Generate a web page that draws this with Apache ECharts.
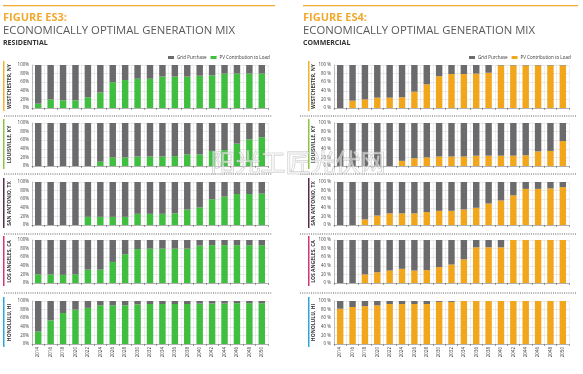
<!DOCTYPE html>
<html><head><meta charset="utf-8">
<script src="https://cdn.jsdelivr.net/npm/echarts@6/dist/echarts.min.js"></script>
<style>html,body{margin:0;padding:0;background:#fff}#c{width:583px;height:374px}</style>
</head><body><div id="c"></div>
<script>
const years = ['2014','2016','2018','2020','2022','2024','2026','2028','2030','2032','2034','2036','2038','2040','2042','2044','2046','2048','2050'];
const cities = ['WESTCHESTER, NY','LOUISVILLE, KY','SAN ANTONIO, TX','LOS ANGELES, CA','HONOLULU, HI'];
const yTicksRes = ['0%','20%','40%','60%','80%','100%'];
const yTicksCom = ['0 %','20 %','40 %','60 %','80 %','100 %'];
// Residential PV contribution to load (%)
const resWestchester = [10,20,18,18,25,36,60,65,68,68,73,73,73,75,76,80,80,80,80];
const resLouisville  = [0,0,0,0,0,10,20,20,22,22,22,23,27,27,35,37,52,62,67];
const resSanAntonio  = [0,0,0,0,19,19,19,19,26,26,26,27,36,41,60,66,72,72,73];
const resLosAngeles  = [20,20,19,20,31,31,49,67,79,80,80,80,80,87,88,88,88,88,88];
const resHonolulu    = [29,55,72,80,84,90,90,90,92,93,93,93,93,94,94,94,95,95,95];
// Commercial PV contribution to load (%)
const comWestchester = [0,17,20,24,24,25,38,55,74,79,79,80,82,99,99,99,99,99,99];
const comLouisville  = [0,0,0,0,0,12,18,20,22,22,22,24,24,24,24,25,34,35,58];
const comSanAntonio  = [0,0,13,22,27,27,27,30,33,33,36,40,50,57,69,84,84,85,88];
const comLosAngeles  = [0,0,20,25,29,33,29,30,37,43,55,83,83,83,100,100,100,100,100];
const comHonolulu    = [82,86,88,90,93,93,93,93,98,98,100,100,100,100,100,100,100,100,100];

const resData = [resWestchester,resLouisville,resSanAntonio,resLosAngeles,resHonolulu];
const comData = [comWestchester,comLouisville,comSanAntonio,comLosAngeles,comHonolulu];

const GRAY='#6b6b6d', GREEN='#3fbe3f', ORANGE='#f2a61c', TITLE='#f2a92e';
const cityColors=['#f0b42a','#8cc63f','#5b2a4f','#d23579','#2aa8d6'];
const rowTops=[65,123,182,240,301], rowH=43;
const panels=[{left:32,width:236,data:resData,color:GREEN,ticks:yTicksRes,lx:3,tx:10},
              {left:334,width:235,data:comData,color:ORANGE,ticks:yTicksCom,lx:308,tx:314}];

const grid=[],xAxis=[],yAxis=[],series=[],graphic=[];
panels.forEach((p,pi)=>{
  p.data.forEach((vals,r)=>{
    const gi=grid.length;
    grid.push({left:p.left,width:p.width,top:rowTops[r],height:rowH});
    xAxis.push({type:'category',gridIndex:gi,data:years,
      axisLine:{lineStyle:{color:'#888',width:0.6}},
      axisTick:{show:true,length:2,lineStyle:{color:'#666',width:0.6}},
      splitLine:{show:true,lineStyle:{color:'#e3e3e3',width:0.6}},
      axisLabel:{show:r===4,rotate:90,fontSize:4.5,color:'#333',margin:3,fontFamily:'Open Sans'}});
    yAxis.push({type:'value',gridIndex:gi,min:0,max:100,interval:20,
      axisLine:{show:true,lineStyle:{color:'#999',width:0.6}},
      splitLine:{lineStyle:{color:'#dcdcdc',width:0.6}},
      axisLabel:{fontSize:4.5,color:'#444',margin:3,fontFamily:'Open Sans',
        formatter:v=>p.ticks[v/20]}});
    series.push({type:'bar',name:'PV Contribution to Load',xAxisIndex:gi,yAxisIndex:gi,stack:'s'+gi,
      barWidth:'52%',data:vals,itemStyle:{color:p.color},silent:true});
    series.push({type:'bar',name:'Grid Purchase',xAxisIndex:gi,yAxisIndex:gi,stack:'s'+gi,
      barWidth:'52%',data:vals.map(v=>100-v),itemStyle:{color:GRAY},silent:true});
    graphic.push({type:'rect',left:p.lx,top:rowTops[r]-4,shape:{width:1.5,height:rowH+7},style:{fill:cityColors[r]},silent:true});
    graphic.push({type:'text',x:p.tx,y:rowTops[r]+rowH/2,rotation:Math.PI/2,
      style:{text:cities[r],fill:'#333',font:'bold 5px "Open Sans"',textAlign:'center',textVerticalAlign:'middle'},silent:true});
  });
});
[116,174,234,293].forEach(y=>{
  graphic.push({type:'line',shape:{x1:4,y1:y,x2:272,y2:y},style:{stroke:'#333',lineWidth:0.8,lineDash:[1,1.2]},silent:true});
  graphic.push({type:'line',shape:{x1:300,y1:y,x2:577,y2:y},style:{stroke:'#333',lineWidth:0.8,lineDash:[1,1.2]},silent:true});
});
[[3,272,'FIGURE ES3:','RESIDENTIAL'],[303,275,'FIGURE ES4:','COMMERCIAL']].forEach(h=>{
  graphic.push({type:'rect',left:h[0],top:5,shape:{width:h[1],height:1.2},style:{fill:TITLE},silent:true});
  graphic.push({type:'text',left:h[0],top:12,style:{text:h[2],fill:TITLE,font:'bold 11px "Open Sans"'},silent:true});
  graphic.push({type:'text',left:h[0],top:25,style:{text:'ECONOMICALLY OPTIMAL GENERATION MIX',fill:'#58595b',font:'11.3px "Open Sans"'},silent:true});
  graphic.push({type:'text',left:h[0],top:39,style:{text:h[3],fill:'#333',font:'bold 7px "Open Sans"'},silent:true});
});
graphic.push({type:'text',x:298,y:162,style:{text:'阳光工匠光伏网',font:'25px "Noto Sans CJK SC"',fill:'rgba(255,255,255,0.5)',stroke:'rgba(170,170,170,0.7)',lineWidth:0.8,textAlign:'center',textVerticalAlign:'middle'},silent:true,z:100});

const legendCommon={selectedMode:false,itemWidth:6,itemHeight:3,itemGap:4,top:55,width:150,padding:0,
  textStyle:{fontSize:4.5,color:'#333',fontFamily:'Open Sans',padding:[0,0,0,-2]},icon:'rect'};
const option={animation:false,grid,xAxis,yAxis,series,graphic,
  legend:[
    Object.assign({},legendCommon,{left:168,data:[{name:'Grid Purchase',itemStyle:{color:GRAY}},{name:'PV Contribution to Load',itemStyle:{color:GREEN}}]}),
    Object.assign({},legendCommon,{left:469,data:[{name:'Grid Purchase',itemStyle:{color:GRAY}},{name:'PV Contribution to Load',itemStyle:{color:ORANGE}}]})
  ]};
echarts.init(document.getElementById('c')).setOption(option);
</script></body></html>
